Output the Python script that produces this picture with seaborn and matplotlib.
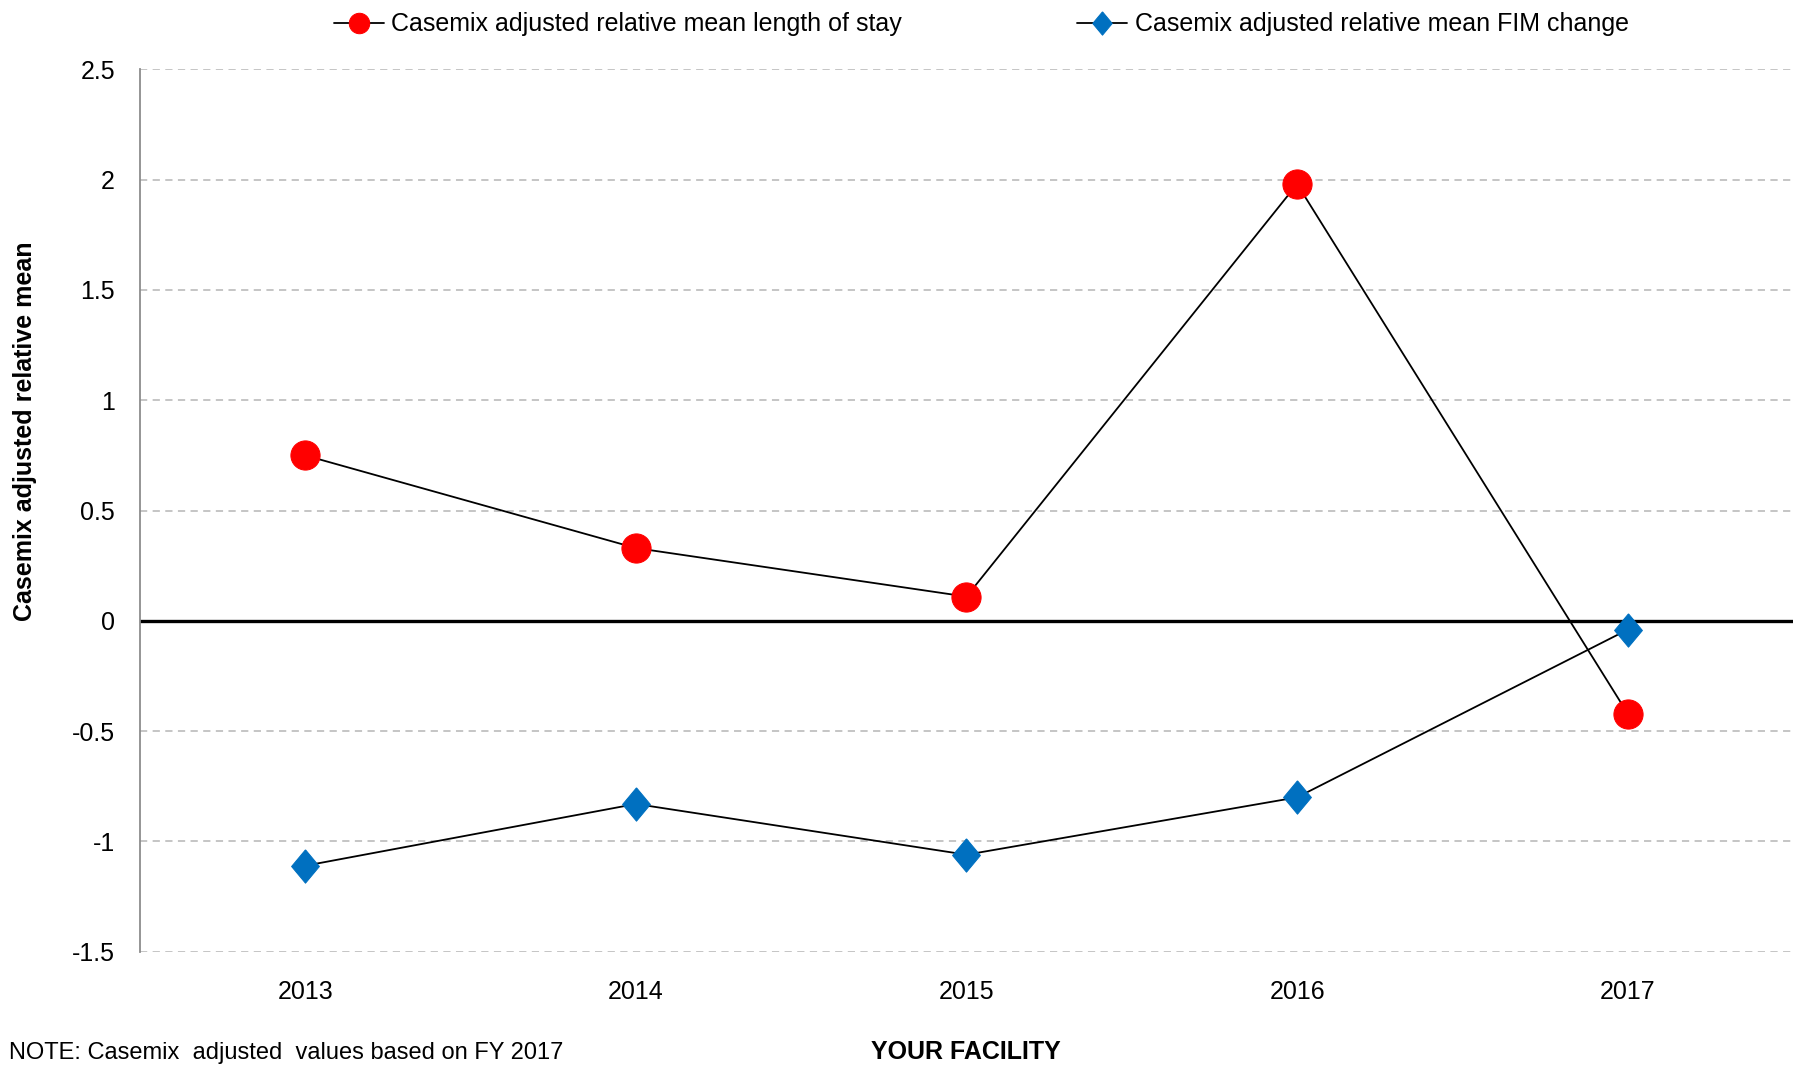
import matplotlib
matplotlib.use("Agg")
import matplotlib.pyplot as plt
from matplotlib import font_manager
import seaborn as sns
import pandas as pd

# data
years = ["2013", "2014", "2015", "2016", "2017"]
los_mean = [0.75, 0.33, 0.11, 1.98, -0.42]
fim_change = [-1.11, -0.83, -1.06, -0.80, -0.04]
yticks = [2.5, 2, 1.5, 1, 0.5, 0, -0.5, -1, -1.5]

sns.set_theme(style="white")

# prefer a narrow font if one is around
names = {f.name for f in font_manager.fontManager.ttflist}
narrow = [n for n in ["Liberation Sans Narrow", "DejaVu Sans Condensed"] if n in names]
if narrow:
    plt.rcParams["font.family"] = [narrow[0], "Liberation Sans", "DejaVu Sans"]
    fs = 21
    if narrow[0] == "DejaVu Sans Condensed":
        fs = 18
else:
    plt.rcParams["font.family"] = ["Liberation Sans", "DejaVu Sans"]
    fs = 18
plt.rcParams["text.color"] = "black"

df = pd.DataFrame({"year": years, "los": los_mean, "fim": fim_change})

diamond = [(0, 1.2), (1, 0), (0, -1.2), (-1, 0), (0, 1.2)]

fig = plt.figure(figsize=(18.06, 10.67), dpi=100)
ax = fig.add_axes([0.0775, 0.108, 0.9153, 0.827])

sns.lineplot(data=df, x="year", y="los", ax=ax, color="black", lw=1.3,
             marker="o", markersize=21, markerfacecolor="#FF0000",
             markeredgecolor="#FF0000", label="Casemix adjusted relative mean length of stay",
             sort=False, zorder=3)
sns.lineplot(data=df, x="year", y="fim", ax=ax, color="black", lw=1.3,
             marker=diamond, markersize=24, markerfacecolor="#0070C0",
             markeredgecolor="#0070C0", label="Casemix adjusted relative mean FIM change",
             sort=False, zorder=3)

ax.set_xlim(-0.5, len(years) - 0.5)
ax.set_ylim(-1.5, 2.5)
ax.set_yticks(yticks)
ax.set_yticklabels([f"{t:g}" for t in yticks])
ax.grid(axis="y", color="#C0C0C0", linestyle=(0, (4, 3)), lw=1.3)
ax.axhline(0, color="black", lw=2.4, zorder=2)

for s in ["top", "right", "bottom"]:
    ax.spines[s].set_visible(False)
ax.spines["left"].set_color("#8C8C8C")
ax.spines["left"].set_linewidth(1.3)

ax.tick_params(axis="both", labelsize=fs, length=0, colors="black")
ax.tick_params(axis="x", pad=20)
ax.tick_params(axis="y", pad=18)
ax.set_xlabel("")
ax.set_ylabel("")

fig.text(0.014, 0.596, "Casemix adjusted relative mean", rotation=90,
         fontsize=fs, fontweight="bold", ha="center", va="center")
fig.text(0.535, 0.003, "YOUR FACILITY", fontsize=fs, fontweight="bold",
         ha="center", va="bottom")
fig.text(0.005, 0.003, "NOTE: Casemix  adjusted  values based on FY 2017",
         fontsize=fs - 1, ha="left", va="bottom")

leg = ax.legend(loc="upper center", bbox_to_anchor=(0.509, 1.09), ncol=2, frameon=False,
                fontsize=fs, columnspacing=7, handlelength=2.0, handletextpad=0.3,
                markerscale=0.7)

fig.savefig("out.png", dpi=100)
